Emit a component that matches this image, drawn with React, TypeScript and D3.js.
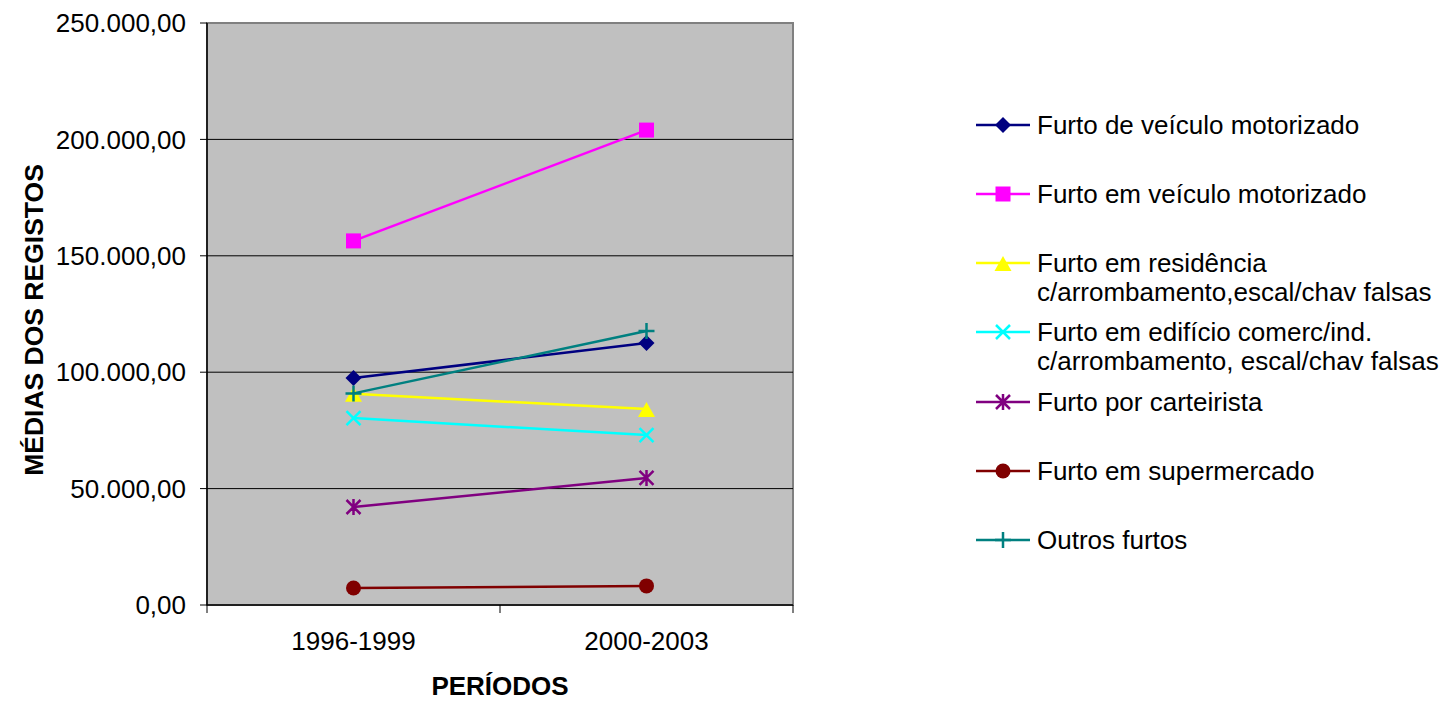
import * as d3 from "d3";

const periods = ["1996-1999", "2000-2003"];
const seriesNames = [
  ["Furto de veículo motorizado"],
  ["Furto em veículo motorizado"],
  ["Furto em residência", "c/arrombamento,escal/chav falsas"],
  ["Furto em edifício comerc/ind.", "c/arrombamento, escal/chav falsas"],
  ["Furto por carteirista"],
  ["Furto em supermercado"],
  ["Outros furtos"],
];
const seriesValues = [
  [97500, 112500],
  [156400, 204000],
  [90700, 84200],
  [80300, 73000],
  [42100, 54600],
  [7300, 8200],
  [90900, 117700],
];
const seriesColors = ["#000080", "#FF00FF", "#FFFF00", "#00FFFF", "#800080", "#800000", "#008080"];
const seriesMarkers = ["diamond", "square", "triangle", "x", "star", "circle", "plus"];
const yTicks = [0, 50000, 100000, 150000, 200000, 250000];

const fmt = (v: number) =>
  d3.format(",.2f")(v).replace(/,/g, "#").replace(".", ",").replace(/#/g, ".");

const Marker = ({ type, x, y, color }) => {
  const s = 8;
  switch (type) {
    case "diamond":
      return <path d={`M${x},${y - s} L${x + s},${y} L${x},${y + s} L${x - s},${y} Z`} fill={color} />;
    case "square":
      return <rect x={x - 7.5} y={y - 7.5} width={15} height={15} fill={color} />;
    case "triangle":
      return <path d={`M${x},${y - 7} L${x + 8.5},${y + 8} L${x - 8.5},${y + 8} Z`} fill={color} />;
    case "x":
      return (
        <path d={`M${x - 7},${y - 7} L${x + 7},${y + 7} M${x + 7},${y - 7} L${x - 7},${y + 7}`} stroke={color} strokeWidth={2.5} />
      );
    case "star":
      return (
        <path
          d={`M${x - 7},${y - 7} L${x + 7},${y + 7} M${x + 7},${y - 7} L${x - 7},${y + 7} M${x},${y - 8} L${x},${y + 8}`}
          stroke={color}
          strokeWidth={2.5}
        />
      );
    case "circle":
      return <circle cx={x} cy={y} r={7.5} fill={color} />;
    case "plus":
      return <path d={`M${x - 8},${y} L${x + 8},${y} M${x},${y - 8} L${x},${y + 8}`} stroke={color} strokeWidth={2.5} />;
    default:
      return null;
  }
};

const App = () => {
  const width = 1452;
  const height = 701;
  const plot = { left: 207, right: 793, top: 23, bottom: 605 };

  const xScale = d3.scaleBand().domain(periods).range([plot.left, plot.right]);
  const yScale = d3.scaleLinear().domain([0, 250000]).range([plot.bottom, plot.top]);
  const cx = (p: string) => xScale(p) + xScale.bandwidth() / 2;

  const line = d3
    .line<number>()
    .x((_, i) => cx(periods[i]))
    .y((d) => yScale(d));

  const font = "'Liberation Sans', Arial, sans-serif";
  const legendRows = [125, 194, 263, 332, 402, 471, 540];

  return (
    <svg width={width} height={height} style={{ position: "absolute", left: 0, top: 0 }} fontFamily={font}>
      <rect x={0} y={0} width={width} height={height} fill="#fff" />
      <rect x={plot.left} y={plot.top} width={plot.right - plot.left} height={plot.bottom - plot.top} fill="#C0C0C0" stroke="#808080" strokeWidth={2} />
      {yTicks.map((t) => (
        <g key={t}>
          {t > 0 && t < 250000 && (
            <line x1={plot.left} x2={plot.right} y1={yScale(t)} y2={yScale(t)} stroke="#000" strokeWidth={1} />
          )}
          <line x1={plot.left - 7} x2={plot.left} y1={yScale(t)} y2={yScale(t)} stroke="#000" strokeWidth={1} />
          <text x={186} y={yScale(t)} dy=".35em" textAnchor="end" fontSize={26}>
            {fmt(t)}
          </text>
        </g>
      ))}
      <line x1={plot.left} x2={plot.left} y1={plot.top} y2={plot.bottom} stroke="#000" strokeWidth={1.5} />
      <line x1={plot.left} x2={plot.right} y1={plot.bottom} y2={plot.bottom} stroke="#000" strokeWidth={1.5} />
      {[plot.left, plot.left + xScale.bandwidth(), plot.right].map((x) => (
        <line key={x} x1={x} x2={x} y1={plot.bottom} y2={plot.bottom + 8} stroke="#000" strokeWidth={1} />
      ))}
      {periods.map((p) => (
        <text key={p} x={cx(p)} y={641} dy=".35em" textAnchor="middle" fontSize={26}>
          {p}
        </text>
      ))}
      <text x={500} y={686} dy=".35em" textAnchor="middle" fontSize={26} fontWeight="bold">
        PERÍODOS
      </text>
      <text transform="translate(34,320) rotate(-90)" dy=".35em" textAnchor="middle" fontSize={26.5} fontWeight="bold">
        MÉDIAS DOS REGISTOS
      </text>

      {seriesValues.map((vals, i) => (
        <g key={i}>
          <path d={line(vals)} fill="none" stroke={seriesColors[i]} strokeWidth={2.5} />
          {vals.map((v, j) => (
            <Marker key={j} type={seriesMarkers[i]} x={cx(periods[j])} y={yScale(v)} color={seriesColors[i]} />
          ))}
        </g>
      ))}

      {seriesNames.map((name, i) => (
        <g key={i}>
          <line x1={976} x2={1030} y1={legendRows[i]} y2={legendRows[i]} stroke={seriesColors[i]} strokeWidth={2.5} />
          <Marker type={seriesMarkers[i]} x={1003} y={legendRows[i]} color={seriesColors[i]} />
          {name.map((ln, k) => (
            <text key={k} x={1037} y={legendRows[i] + k * 29} dy=".35em" fontSize={26}>
              {ln}
            </text>
          ))}
        </g>
      ))}
    </svg>
  );
};

export default App;
